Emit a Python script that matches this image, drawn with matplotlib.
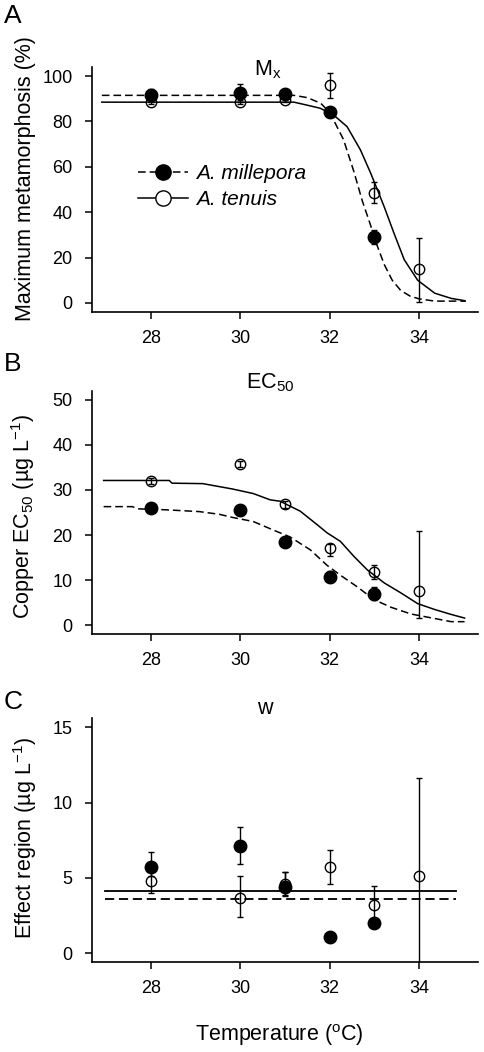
import matplotlib
matplotlib.use("Agg")
import matplotlib.pyplot as plt
import numpy as np

plt.rcParams["font.family"] = ["Liberation Sans", "DejaVu Sans"]
plt.rcParams["mathtext.default"] = "regular"

temps_mil = [28, 30, 31, 32, 33]
temps_ten = [28, 30, 31, 32, 33, 34]

# A: maximum metamorphosis (%)
mx_mil = [91.5, 92.5, 92, 84, 29]
mx_mil_err = [3, 4, 2, 1.5, 3]
mx_ten = [88.5, 88.5, 89.5, 96, 48.5, 15]
mx_ten_lo = [1, 1, 1, 5.5, 4.5, 14.4]
mx_ten_hi = [1, 1, 1, 5.5, 5, 13.5]

mx_fit_mil_t = [26.9, 31.2, 31.5, 31.8, 32.0, 32.31, 32.54, 32.73, 32.92, 33.03,
                33.22, 33.4, 33.59, 33.8, 34.0, 34.35, 35.05]
mx_fit_mil = [91.5, 91.5, 90.5, 88, 84, 72, 58, 45, 34, 27,
              17, 10, 5.5, 3, 1.8, 0.8, 0.8]
mx_fit_ten_t = [26.9, 31.2, 31.49, 31.79, 32.09, 32.39, 32.69, 32.92, 33.07, 33.22,
                33.44, 33.67, 33.97, 34.35, 34.72, 35.02]
mx_fit_ten = [88.5, 88.5, 87.2, 85.8, 82.8, 77.7, 67.4, 57.1, 49.8, 42.4,
              30.7, 19, 10, 4.3, 2, 1]

# B: copper EC50 (ug/L)
ec_mil = [26, 25.5, 18.5, 10.8, 7]
ec_mil_err = [0.8, 1.0, 1.0, 1.2, 1.5]
ec_ten = [32, 35.8, 26.8, 17.2, 11.8, 7.6]
ec_ten_lo = [0.7, 0.7, 0.7, 1.8, 1.5, 5.9]
ec_ten_hi = [0.7, 0.7, 0.7, 0.8, 1.5, 13.4]

ec_fit_ten_t = [26.94, 28.41, 28.47, 29.16, 29.83, 30.29, 30.67, 30.89, 31.34, 31.72,
                31.94, 32.24, 32.54, 32.84, 33.22, 33.59, 33.97, 34.35, 34.72, 35.02]
ec_fit_ten = [32.1, 32.1, 31.5, 31.4, 30.2, 29.2, 27.8, 27.5, 25.3, 22.3,
              20.5, 18.6, 15.3, 12.3, 9.4, 7.2, 4.8, 3.5, 2.4, 1.6]
ec_fit_mil_t = [26.94, 27.58, 27.73, 28.33, 29.08, 29.53, 29.83, 30.29, 30.74, 31.11,
                31.57, 31.94, 32.24, 32.62, 32.99, 33.37, 33.82, 34.35, 34.72, 35.02]
ec_fit_mil = [26.3, 26.3, 25.8, 25.6, 25.2, 24.6, 23.9, 23.0, 21.1, 19.6,
              16.7, 13.3, 11.1, 8.5, 5.7, 4.0, 2.5, 1.5, 0.8, 0.8]

# C: effect region w (ug/L)
w_mil = [5.7, 7.1, 4.4, 1.05, 2.0]
w_mil_lo = [0.6, 1.2, 0.6, 0.2, 0.2]
w_mil_hi = [1.0, 1.3, 1.0, 0.2, 0.2]
w_ten = [4.8, 3.7, 4.6, 5.75, 3.2, 5.1]
w_ten_lo = [0.8, 1.3, 0.7, 1.15, 1.2, 6.1]
w_ten_hi = [0.8, 1.4, 0.8, 1.1, 1.25, 6.55]
w_mean_mil = 3.62
w_mean_ten = 4.15
w_line_t = [26.96, 34.83]

W, H = 484, 1052
fig = plt.figure(figsize=(W / 100, H / 100), dpi=100)

def px_axes(top, bottom, left=92, right=478):
    return fig.add_axes([left / W, 1 - bottom / H, (right - left) / W, (bottom - top) / H])

axA = px_axes(67, 312)
axB = px_axes(390.7, 634.3)
axC = px_axes(718.3, 962.3)

lw = 1.1
dash = (5, 2.6)
fs_tick = 13
fs_lab = 15.5

def style(ax, ylim, yticks):
    ax.set_xlim(26.68, 35.32)
    ax.set_ylim(*ylim)
    ax.set_xticks([28, 30, 32, 34])
    ax.set_yticks(yticks)
    for s in ["top", "right"]:
        ax.spines[s].set_visible(False)
    for s in ["left", "bottom"]:
        ax.spines[s].set_linewidth(1.2)
    ax.tick_params(axis="both", labelsize=fs_tick, width=1.1, length=5)
    ax.tick_params(axis="x", pad=8)
    ax.tick_params(axis="y", pad=9)

def ylab(ax, text, x, y):
    lab = ax.set_ylabel(text, fontsize=fs_lab)
    ax.yaxis.set_label_coords(x, y)
    lab.set_verticalalignment("center")
    lab.set_horizontalalignment("center")

def points(ax, x, y, yerr, filled):
    if filled:
        ax.errorbar(x, y, yerr=yerr, fmt="o", ms=9, mfc="black", mec="black",
                    ecolor="black", elinewidth=1, capsize=2.2, capthick=1, zorder=4)
    else:
        ax.errorbar(x, y, yerr=yerr, fmt="o", ms=7.5, mfc="none", mec="black", mew=1,
                    ecolor="black", elinewidth=1, capsize=2.2, capthick=1, zorder=5)

# Panel A
axA.plot(mx_fit_mil_t, mx_fit_mil, color="black", lw=lw, dashes=dash)
axA.plot(mx_fit_ten_t, mx_fit_ten, color="black", lw=lw)
points(axA, temps_mil, mx_mil, mx_mil_err, True)
points(axA, temps_ten, mx_ten, [mx_ten_lo, mx_ten_hi], False)
style(axA, (-4, 104), [0, 20, 40, 60, 80, 100])
ylab(axA, "Maximum metamorphosis (%)", -0.171, 0.545)
hm, = axA.plot([], [], color="black", lw=lw, dashes=dash, marker="o", ms=11, mfc="black")
ht, = axA.plot([], [], color="black", lw=lw, marker="o", ms=11, mfc="white")
leg = axA.legend([hm, ht], ["A. millepora", "A. tenuis"], loc="upper left",
                 bbox_to_anchor=(0.07, 0.68), frameon=False, fontsize=15,
                 handlelength=2.4, handletextpad=0.4, labelspacing=0.35)
for t in leg.get_texts():
    t.set_fontstyle("italic")

# Panel B
axB.plot(ec_fit_mil_t, ec_fit_mil, color="black", lw=lw, dashes=dash)
axB.plot(ec_fit_ten_t, ec_fit_ten, color="black", lw=lw)
points(axB, temps_mil, ec_mil, ec_mil_err, True)
points(axB, temps_ten, ec_ten, [ec_ten_lo, ec_ten_hi], False)
style(axB, (-2, 52), [0, 10, 20, 30, 40, 50])
ylab(axB, r"Copper EC$_{50}$ (µg L$^{-1}$)", -0.178, 0.484)

# Panel C
axC.plot(w_line_t, [w_mean_ten, w_mean_ten], color="black", lw=lw * 1.2)
axC.plot(w_line_t, [w_mean_mil, w_mean_mil], color="black", lw=lw * 1.2, dashes=dash)
points(axC, temps_mil, w_mil, [w_mil_lo, w_mil_hi], True)
points(axC, temps_ten, w_ten, [w_ten_lo, w_ten_hi], False)
style(axC, (-0.6, 15.6), [0, 5, 10, 15])
ylab(axC, r"Effect region (µg L$^{-1}$)", -0.174, 0.511)
xl = axC.set_xlabel(r"Temperature ($^{o}$C)", fontsize=fs_lab)
axC.xaxis.set_label_coords(0.4845, -0.298)
xl.set_verticalalignment("center")

# titles and panel letters
fig.text(268 / W, 1 - 70 / H, r"M$_{x}$", fontsize=fs_lab, ha="center", va="center")
fig.text(270 / W, 1 - 383 / H, r"EC$_{50}$", fontsize=fs_lab, ha="center", va="center")
fig.text(265 / W, 1 - 708 / H, "w", fontsize=fs_lab, ha="center", va="center")
for lab, y in [("A", 16), ("B", 364), ("C", 702)]:
    fig.text(4 / W, 1 - y / H, lab, fontsize=19, ha="left", va="center")

fig.savefig("out.png", dpi=100)
